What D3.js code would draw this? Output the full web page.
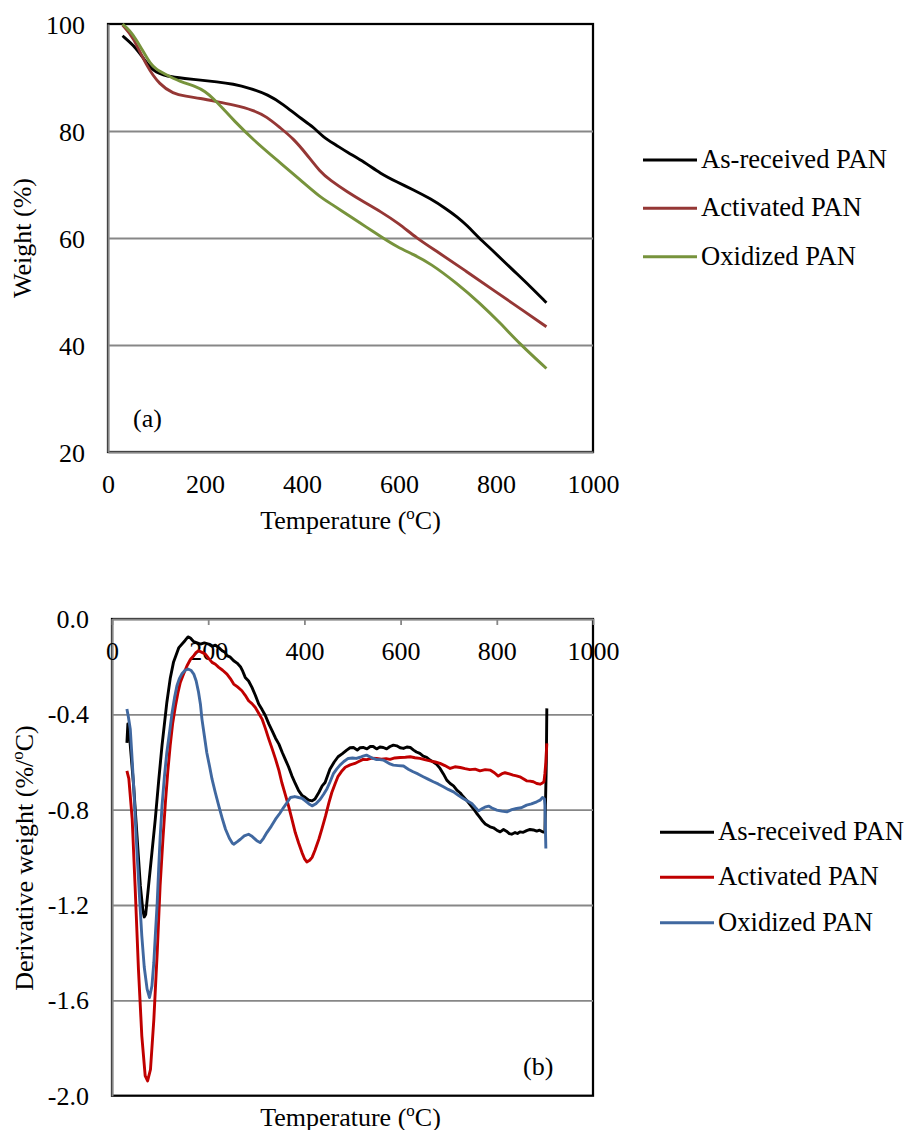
<!DOCTYPE html>
<html>
<head>
<meta charset="utf-8">
<script src="https://cdn.jsdelivr.net/npm/d3@7"></script>
<style>
  html, body { margin: 0; padding: 0; background: #fff; }
  svg { display: block; }
  text { font-family: "Liberation Serif", "Times New Roman", serif; fill: #000; }
</style>
</head>
<body>
<svg id="fig" width="907" height="1130"></svg>
<script>
// ---- Series names and colours ----
const seriesNames = ["As-received PAN", "Activated PAN", "Oxidized PAN"];
const tgaColors = ["#000000", "#953735", "#77933C"];
const dtgColors = ["#000000", "#C00000", "#4068A0"];

// ---- Tick values / labels ----
const tempTicks = [0, 200, 400, 600, 800, 1000];
const weightTicks = [20, 40, 60, 80, 100];
const derivTicks = [-2.0, -1.6, -1.2, -0.8, -0.4, 0.0];
const derivTickLabels = ["-2.0", "-1.6", "-1.2", "-0.8", "-0.4", "0.0"];

// ---- (a) TGA: weight (%) vs temperature (°C) ----
const asReceivedTGA = [[30,97.8],[52,96.1],[73,93.6],[93,91.1],[121,90.2],[160,89.8],[190,89.5],[224,89.2],[258,88.8],[293,88.0],[330,86.8],[361,85.0],[395,82.5],[423,80.8],[443,78.9],[470,77.4],[492,76.1],[530,74.1],[561,72.1],[595,70.5],[630,69.0],[664,67.4],[700,65.3],[719,64.0],[740,62.4],[767,59.8],[788,58.1],[835,54.0],[870,51.0],[904,47.9]];
const activatedTGA = [[30,99.8],[52,97.6],[80,92.0],[107,88.6],[134,87.0],[160,86.5],[190,86.1],[224,85.5],[258,84.9],[300,83.9],[327,82.7],[355,80.6],[382,78.6],[410,75.6],[437,72.4],[458,70.8],[492,68.7],[530,66.6],[561,65.0],[600,62.7],[636,60.0],[678,57.5],[740,53.7],[800,49.9],[850,46.8],[904,43.4]];
const oxidizedTGA = [[30,100],[45,98.8],[59,97.0],[73,94.8],[87,92.6],[100,91.5],[114,90.8],[148,89.2],[183,88.3],[200,87.4],[217,86.1],[238,84.1],[258,82.1],[300,78.3],[348,74.6],[400,70.6],[437,67.7],[458,66.5],[500,64.0],[530,62.2],[567,60.0],[595,58.4],[630,56.9],[664,55.3],[720,51.5],[767,47.8],[810,44.0],[849,40.2],[904,35.6]];

// ---- (b) DTG: derivative weight (%/°C) vs temperature (°C) ----
const asReceivedDTG = [[31,-0.52],[33,-0.44],[35,-0.45],[38,-0.53],[45,-0.70],[52,-0.91],[59,-1.12],[64,-1.22],[67,-1.25],[70,-1.24],[76,-1.12],[83,-0.98],[90,-0.84],[97,-0.68],[104,-0.53],[114,-0.35],[121,-0.25],[128,-0.18],[139,-0.12],[152,-0.09],[158,-0.075],[163,-0.08],[170,-0.095],[177,-0.10],[184,-0.105],[192,-0.10],[201,-0.105],[208,-0.115],[215,-0.11],[222,-0.12],[229,-0.133],[235,-0.14],[239,-0.154],[246,-0.16],[253,-0.175],[260,-0.185],[267,-0.2],[272,-0.22],[277,-0.245],[284,-0.26],[291,-0.287],[298,-0.32],[305,-0.357],[312,-0.38],[319,-0.406],[326,-0.44],[333,-0.469],[340,-0.50],[347,-0.525],[354,-0.56],[360,-0.588],[367,-0.62],[374,-0.658],[381,-0.69],[388,-0.72],[395,-0.74],[402,-0.749],[409,-0.76],[416,-0.763],[422,-0.755],[430,-0.728],[437,-0.70],[443,-0.686],[453,-0.63],[462,-0.60],[470,-0.578],[479,-0.565],[488,-0.55],[495,-0.54],[502,-0.539],[510,-0.55],[516,-0.54],[522,-0.539],[530,-0.545],[537,-0.535],[543,-0.535],[550,-0.545],[557,-0.537],[564,-0.539],[571,-0.545],[578,-0.535],[585,-0.529],[592,-0.532],[599,-0.54],[606,-0.543],[613,-0.537],[620,-0.539],[627,-0.55],[633,-0.558],[640,-0.564],[647,-0.575],[654,-0.58],[661,-0.592],[668,-0.60],[675,-0.61],[682,-0.627],[689,-0.65],[696,-0.676],[703,-0.69],[710,-0.70],[717,-0.718],[724,-0.73],[730,-0.745],[737,-0.76],[744,-0.778],[751,-0.795],[758,-0.815],[764,-0.83],[769,-0.844],[776,-0.86],[786,-0.872],[793,-0.876],[800,-0.886],[807,-0.893],[814,-0.883],[820,-0.89],[826,-0.90],[831,-0.903],[838,-0.896],[843,-0.90],[848,-0.893],[855,-0.895],[862,-0.888],[869,-0.883],[876,-0.885],[883,-0.89],[889,-0.886],[895,-0.893],[900,-0.895],[903,-0.60],[904,-0.375]];
const activatedDTG = [[31,-0.637],[35,-0.67],[42,-0.84],[48,-1.12],[55,-1.47],[62,-1.75],[69,-1.917],[74,-1.938],[80,-1.89],[87,-1.68],[94,-1.40],[100,-1.12],[106,-0.92],[111,-0.77],[116,-0.64],[121,-0.53],[126,-0.44],[132,-0.364],[137,-0.31],[142,-0.266],[149,-0.23],[156,-0.196],[163,-0.17],[170,-0.154],[175,-0.14],[180,-0.133],[187,-0.14],[194,-0.147],[201,-0.165],[208,-0.182],[215,-0.19],[222,-0.203],[230,-0.215],[239,-0.231],[246,-0.25],[253,-0.273],[261,-0.285],[270,-0.301],[277,-0.32],[284,-0.343],[291,-0.355],[298,-0.371],[305,-0.395],[312,-0.42],[319,-0.46],[326,-0.504],[333,-0.545],[340,-0.588],[347,-0.635],[353,-0.686],[360,-0.735],[367,-0.784],[374,-0.84],[381,-0.896],[388,-0.94],[395,-0.98],[400,-1.005],[405,-1.019],[411,-1.012],[416,-1.0],[422,-0.97],[430,-0.924],[437,-0.876],[444,-0.826],[451,-0.77],[457,-0.728],[464,-0.69],[470,-0.66],[477,-0.64],[485,-0.622],[495,-0.612],[505,-0.606],[513,-0.598],[522,-0.589],[530,-0.59],[540,-0.584],[550,-0.585],[560,-0.588],[570,-0.586],[578,-0.589],[588,-0.583],[599,-0.581],[610,-0.58],[620,-0.578],[630,-0.582],[640,-0.585],[650,-0.59],[661,-0.595],[672,-0.60],[682,-0.606],[692,-0.615],[703,-0.627],[713,-0.62],[724,-0.623],[734,-0.628],[744,-0.632],[755,-0.63],[765,-0.637],[776,-0.632],[786,-0.634],[795,-0.645],[803,-0.659],[810,-0.65],[817,-0.645],[826,-0.65],[834,-0.655],[841,-0.658],[848,-0.662],[855,-0.67],[862,-0.679],[869,-0.68],[876,-0.683],[883,-0.69],[890,-0.693],[895,-0.688],[898,-0.683],[900,-0.648],[902,-0.60],[904,-0.522]];
const oxidizedDTG = [[31,-0.378],[34,-0.41],[38,-0.462],[41,-0.56],[45,-0.70],[52,-0.98],[57,-1.16],[62,-1.33],[67,-1.46],[73,-1.553],[78,-1.588],[83,-1.54],[87,-1.44],[90,-1.33],[94,-1.19],[97,-1.05],[100,-0.92],[104,-0.784],[109,-0.66],[114,-0.56],[120,-0.47],[125,-0.392],[130,-0.33],[135,-0.28],[140,-0.25],[145,-0.231],[152,-0.215],[158,-0.21],[164,-0.215],[170,-0.231],[175,-0.26],[180,-0.308],[184,-0.36],[187,-0.42],[192,-0.49],[197,-0.56],[203,-0.62],[208,-0.672],[215,-0.73],[222,-0.784],[229,-0.835],[236,-0.882],[244,-0.92],[250,-0.94],[253,-0.945],[260,-0.935],[267,-0.924],[275,-0.91],[284,-0.903],[290,-0.91],[294,-0.917],[301,-0.93],[308,-0.938],[315,-0.92],[322,-0.896],[331,-0.87],[340,-0.84],[349,-0.815],[357,-0.79],[364,-0.77],[371,-0.749],[380,-0.745],[388,-0.749],[395,-0.752],[402,-0.763],[409,-0.775],[416,-0.784],[424,-0.775],[433,-0.756],[440,-0.735],[447,-0.712],[453,-0.685],[460,-0.65],[467,-0.63],[474,-0.613],[482,-0.598],[491,-0.585],[500,-0.583],[508,-0.585],[516,-0.58],[522,-0.575],[529,-0.571],[536,-0.578],[543,-0.585],[550,-0.59],[557,-0.59],[564,-0.592],[571,-0.60],[578,-0.608],[585,-0.613],[595,-0.615],[606,-0.617],[616,-0.63],[626,-0.641],[636,-0.65],[647,-0.662],[657,-0.672],[668,-0.683],[678,-0.692],[689,-0.704],[699,-0.715],[710,-0.725],[720,-0.74],[730,-0.753],[740,-0.765],[748,-0.774],[755,-0.79],[762,-0.805],[770,-0.795],[777,-0.788],[783,-0.785],[790,-0.793],[800,-0.802],[810,-0.806],[821,-0.809],[831,-0.80],[841,-0.795],[851,-0.792],[862,-0.781],[872,-0.776],[883,-0.767],[890,-0.76],[895,-0.749],[899,-0.755],[900,-0.78],[902,-0.963]];

const svg = d3.select("#fig");
const FONT = 26;
const GRID = "#878787";

// Axis title with a superscript "o" in the unit
function tempTitle(g, x, y) {
  const t = g.append("text").attr("x", x).attr("y", y)
    .attr("text-anchor", "middle").attr("font-size", FONT);
  t.append("tspan").text("Temperature (");
  t.append("tspan").attr("font-size", 17).attr("dy", -10).text("o");
  t.append("tspan").attr("dy", 10).text("C)");
}

function legend(g, x, ys, colors) {
  seriesNames.forEach((name, i) => {
    g.append("line").attr("x1", x).attr("x2", x + 54)
      .attr("y1", ys[i]).attr("y2", ys[i])
      .attr("stroke", colors[i]).attr("stroke-width", 3);
    g.append("text").attr("x", x + 58).attr("y", ys[i] + 8)
      .attr("font-size", 26.6).text(name);
  });
}

// ================= (a) =================
{
  const g = svg.append("g");
  const x = d3.scaleLinear().domain([0, 1000]).range([108, 593]);
  const y = d3.scaleLinear().domain([20, 100]).range([452, 24]);

  // plot-area frame
  g.append("rect").attr("x", x(0)).attr("y", y(100))
    .attr("width", x(1000) - x(0)).attr("height", y(20) - y(100))
    .attr("fill", "none").attr("stroke", "#000").attr("stroke-width", 2.25);

  // horizontal gridlines
  g.append("g").attr("transform", `translate(${x(0)},0)`)
    .call(d3.axisLeft(y).tickValues([40, 60, 80]).tickSize(-(x(1000) - x(0))).tickFormat(""))
    .call(s => s.select(".domain").remove())
    .call(s => s.selectAll("line").attr("stroke", GRID).attr("stroke-width", 1.8));

  // y axis
  g.append("g").attr("transform", `translate(${x(0)},0)`)
    .call(d3.axisLeft(y).tickValues(weightTicks).tickSize(0).tickPadding(23).tickFormat(d3.format("d")))
    .call(s => s.select(".domain").attr("stroke", GRID).attr("stroke-width", 2))
    .call(s => s.selectAll("text").attr("font-size", FONT).attr("font-family", "Liberation Serif").attr("dy", "9px"));

  // x axis
  g.append("g").attr("transform", `translate(0,${y(20)})`)
    .call(d3.axisBottom(x).tickValues(tempTicks).tickSize(0).tickPadding(0).tickFormat(d3.format("d")))
    .call(s => s.select(".domain").attr("stroke", GRID).attr("stroke-width", 2))
    .call(s => s.selectAll("text").attr("font-size", FONT).attr("font-family", "Liberation Serif").attr("dy", null).attr("y", 41));

  // smoothed weight-loss curves
  const line = d3.line().x(d => x(d[0])).y(d => y(d[1])).curve(d3.curveBasis);
  [asReceivedTGA, activatedTGA, oxidizedTGA].forEach((s, i) => {
    g.append("path").datum(s).attr("d", line)
      .attr("fill", "none").attr("stroke", tgaColors[i])
      .attr("stroke-width", 2.9).attr("stroke-linejoin", "round");
  });

  g.append("text").attr("x", 133).attr("y", 427).attr("font-size", FONT).text("(a)");
  tempTitle(g, 350.5, 529);
  g.append("text").attr("transform", "translate(31,238) rotate(-90)")
    .attr("text-anchor", "middle").attr("font-size", FONT).text("Weight (%)");

  legend(g, 643, [160, 208.3, 256.7], tgaColors);
}

// ================= (b) =================
{
  const g = svg.append("g");
  const x = d3.scaleLinear().domain([0, 1000]).range([112, 593]);
  const y = d3.scaleLinear().domain([-2, 0]).range([1095.7, 619]);

  g.append("rect").attr("x", x(0)).attr("y", y(0))
    .attr("width", x(1000) - x(0)).attr("height", y(-2) - y(0))
    .attr("fill", "none").attr("stroke", "#000").attr("stroke-width", 2.25);

  g.append("g").attr("transform", `translate(${x(0)},0)`)
    .call(d3.axisLeft(y).tickValues([-1.6, -1.2, -0.8, -0.4]).tickSize(-(x(1000) - x(0))).tickFormat(""))
    .call(s => s.select(".domain").remove())
    .call(s => s.selectAll("line").attr("stroke", GRID).attr("stroke-width", 1.8));

  // y axis
  g.append("g").attr("transform", `translate(${x(0)},0)`)
    .call(d3.axisLeft(y).tickValues(derivTicks).tickSize(0).tickPadding(23)
      .tickFormat((d, i) => derivTickLabels[i]))
    .call(s => s.select(".domain").attr("stroke", GRID).attr("stroke-width", 2))
    .call(s => s.selectAll("text").attr("font-size", FONT).attr("font-family", "Liberation Serif").attr("dy", "8.5px"));

  // x axis sits at y = 0, ticks pointing into the plot, labels below
  g.append("g").attr("transform", `translate(0,${y(0)})`)
    .call(d3.axisBottom(x).tickValues(tempTicks).tickSizeInner(6).tickSizeOuter(0).tickFormat(d3.format("d")))
    .call(s => s.select(".domain").attr("stroke", GRID).attr("stroke-width", 2))
    .call(s => s.selectAll("line").attr("stroke", GRID).attr("stroke-width", 1.8))
    .call(s => s.selectAll("text").attr("font-size", FONT).attr("font-family", "Liberation Serif").attr("dy", null).attr("y", 40.5));

  const line = d3.line().x(d => x(d[0])).y(d => y(d[1]));
  [asReceivedDTG, activatedDTG, oxidizedDTG].forEach((s, i) => {
    g.append("path").datum(s).attr("d", line)
      .attr("fill", "none").attr("stroke", dtgColors[i])
      .attr("stroke-width", 2.9).attr("stroke-linejoin", "round");
  });

  g.append("text").attr("x", 523).attr("y", 1075).attr("font-size", FONT).text("(b)");
  tempTitle(g, 350.5, 1126);
  const t = g.append("text").attr("transform", "translate(33,858) rotate(-90)")
    .attr("text-anchor", "middle").attr("font-size", FONT);
  t.append("tspan").text("Derivative weight (%/");
  t.append("tspan").attr("font-size", 17).attr("dy", -10).text("o");
  t.append("tspan").attr("dy", 10).text("C)");

  legend(g, 660, [832.3, 877.3, 922.7], dtgColors);
}
</script>
</body>
</html>
